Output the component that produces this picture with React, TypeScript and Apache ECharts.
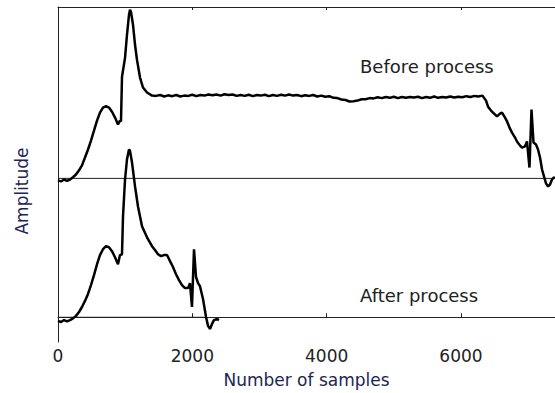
import React, { useEffect, useRef } from "react";
import * as echarts from "echarts";

// x ticks
const xTicks = [0, 2000, 4000, 6000];
const X_MAX = 7400;
const Y_MIN = -0.89;
const Y_MAX = 11.17;
const BEFORE_OFFSET = 5;

// Before process: [sample, amplitude relative to its own baseline]
const beforeStart: [number, number][] = [
  [0, -0.07], [45, -0.11], [90, -0.04], [134, -0.09], [179, -0.04], [223, 0.04],
  [268, 0.14], [313, 0.29], [357, 0.47], [402, 0.75], [447, 1.04], [491, 1.36],
  [536, 1.72], [581, 2.08], [625, 2.37], [670, 2.55], [715, 2.6], [759, 2.55],
  [804, 2.4], [849, 2.19], [893, 1.94], [923, 2.08], [938, 2.05], [953, 3.66],
  [998, 4.34], [1027, 5.17], [1057, 5.89], [1072, 6.07], [1087, 5.99], [1117, 5.53],
  [1147, 4.81], [1176, 4.27], [1221, 3.63], [1266, 3.27], [1325, 3.09], [1400, 2.98],
];
// plateau, sampled every 60 samples from 1460
const plateauStart = 1460;
const plateauStep = 60;
const beforePlateau = [
  2.97, 3.0, 2.95, 2.99, 2.96, 3.0, 2.95, 2.98, 2.97, 3.01, 2.96, 3.0, 2.98, 3.02,
  2.99, 3.02, 2.98, 3.03, 3.0, 3.02, 2.97, 3.0, 2.97, 3.01, 2.96, 3.0, 2.98, 3.01,
  2.96, 3.0, 2.97, 3.01, 2.98, 3.02, 2.98, 3.0, 2.96, 2.99, 2.97, 3.0, 2.95, 2.98,
  2.94, 2.96, 2.9, 2.89, 2.84, 2.82, 2.77, 2.78, 2.8, 2.85, 2.85, 2.89, 2.88, 2.92,
  2.89, 2.93, 2.9, 2.94, 2.89, 2.93, 2.9, 2.93, 2.91, 2.94, 2.89, 2.93, 2.9, 2.95,
  2.9, 2.93, 2.91, 2.95, 2.91, 2.94, 2.92, 2.96, 2.93, 2.97, 2.95, 2.98,
];
const beforeEnd: [number, number][] = [
  [6373, 2.8], [6403, 2.58], [6447, 2.44], [6477, 2.37], [6537, 2.23], [6581, 2.33],
  [6611, 2.37], [6656, 2.19], [6686, 2.05], [6730, 1.79], [6760, 1.65], [6805, 1.47],
  [6834, 1.33], [6879, 1.18], [6909, 1.11], [6953, 1.15], [6983, 1.33], [7020, 0.39],
  [7050, 2.48], [7080, 1.29], [7117, 1.22], [7147, 1.04], [7177, 0.75], [7207, 0.32],
  [7236, 0.07], [7266, -0.18], [7296, -0.29], [7326, -0.22], [7355, -0.04], [7385, 0.04],
  [7400, 0.0],
];

// After process: [sample, amplitude]
const afterPts: [number, number][] = [
  [0, -0.13], [45, -0.17], [90, -0.1], [134, -0.15], [179, -0.1], [223, -0.04],
  [268, 0.05], [313, 0.19], [357, 0.37], [402, 0.59], [447, 0.84], [491, 1.16],
  [536, 1.52], [581, 1.91], [625, 2.24], [670, 2.45], [715, 2.56], [759, 2.52],
  [804, 2.38], [849, 2.16], [893, 1.91], [923, 2.24], [953, 2.27], [968, 3.64],
  [998, 4.96], [1027, 5.68], [1057, 6.04], [1072, 6.0], [1102, 5.57], [1147, 4.71],
  [1191, 3.99], [1251, 3.28], [1325, 2.88], [1400, 2.56], [1444, 2.42], [1489, 2.27],
  [1534, 2.2], [1578, 2.24], [1623, 2.24], [1668, 2.02], [1712, 1.81], [1757, 1.55],
  [1802, 1.34], [1846, 1.16], [1891, 1.05], [1936, 1.05], [1965, 1.23], [1995, 0.37],
  [2025, 2.45], [2055, 1.45], [2085, 1.23], [2114, 1.12], [2159, 0.66], [2204, 0.01],
  [2234, -0.31], [2263, -0.42], [2293, -0.24], [2323, -0.1], [2368, -0.06], [2397, -0.1],
];

const upperBaseline = [0, X_MAX];
const lowerBaseline = [0, 2180];

const FONT = "DejaVu Sans";

export default function App() {
  const ref = useRef<HTMLDivElement>(null);
  useEffect(() => {
    if (!ref.current) return;
    const chart = echarts.init(ref.current, undefined, { renderer: "svg" });
    const before: [number, number][] = [
      ...beforeStart,
      ...beforePlateau.map((v, i) => [plateauStart + i * plateauStep, v] as [number, number]),
      ...beforeEnd,
    ].map(([x, y]) => [x, y + BEFORE_OFFSET]);
    const traceStyle = { color: "#000", width: 2.5 };
    chart.setOption({
      animation: false,
      grid: { left: 58, right: 0, top: 7, bottom: 50, containLabel: false },
      xAxis: [
        {
          type: "value",
          position: "bottom",
          min: 0,
          max: X_MAX,
          interval: 2000,
          axisLine: { show: true, lineStyle: { color: "#222", width: 1 } },
          axisTick: { show: true, inside: true, length: 4, lineStyle: { color: "#222" } },
          axisLabel: {
            show: true,
            margin: 5,
            color: "#222",
            fontFamily: FONT,
            fontSize: 17,
            showMaxLabel: false,
            formatter: (v: number) => (xTicks.includes(v) ? String(v) : ""),
          },
          splitLine: { show: false },
          name: "Number of samples",
          nameLocation: "middle",
          nameGap: 29,
          nameTextStyle: { color: "#1c2557", fontFamily: FONT, fontSize: 17 },
        },
        {
          type: "value",
          position: "top",
          min: 0,
          max: X_MAX,
          interval: 2000,
          axisLine: { show: true, lineStyle: { color: "#222", width: 1 } },
          axisTick: { show: true, inside: true, length: 3, lineStyle: { color: "#222" } },
          axisLabel: { show: false },
          splitLine: { show: false },
        },
      ],
      yAxis: {
        type: "value",
        min: Y_MIN,
        max: Y_MAX,
        axisLine: { show: true, lineStyle: { color: "#222", width: 1 } },
        axisTick: { show: false },
        axisLabel: { show: false },
        splitLine: { show: false },
      },
      graphic: [
        {
          type: "text",
          x: 22,
          y: 191,
          rotation: Math.PI / 2,
          style: {
            text: "Amplitude",
            fill: "#1c2557",
            font: `17px "${FONT}"`,
            align: "center",
            verticalAlign: "middle",
          },
        },
        {
          type: "text",
          x: 360,
          y: 66,
          style: {
            text: "Before process",
            fill: "#222",
            font: `18px "${FONT}"`,
            align: "left",
            verticalAlign: "middle",
          },
        },
        {
          type: "text",
          x: 360,
          y: 295,
          style: {
            text: "After process",
            fill: "#222",
            font: `18px "${FONT}"`,
            align: "left",
            verticalAlign: "middle",
          },
        },
      ],
      series: [
        {
          type: "line",
          data: upperBaseline.map((x) => [x, BEFORE_OFFSET]),
          symbol: "none",
          lineStyle: { color: "#222", width: 1 },
          silent: true,
        },
        {
          type: "line",
          data: lowerBaseline.map((x) => [x, 0]),
          symbol: "none",
          lineStyle: { color: "#222", width: 1 },
          silent: true,
        },
        {
          type: "line",
          data: before,
          symbol: "none",
          lineStyle: traceStyle,
        },
        {
          type: "line",
          data: afterPts,
          symbol: "none",
          lineStyle: traceStyle,
        },
      ],
    });
    return () => chart.dispose();
  }, []);
  return (
    <div
      ref={ref}
      style={{ position: "fixed", left: 0, top: 0, width: 555, height: 393, background: "#fff" }}
    />
  );
}
